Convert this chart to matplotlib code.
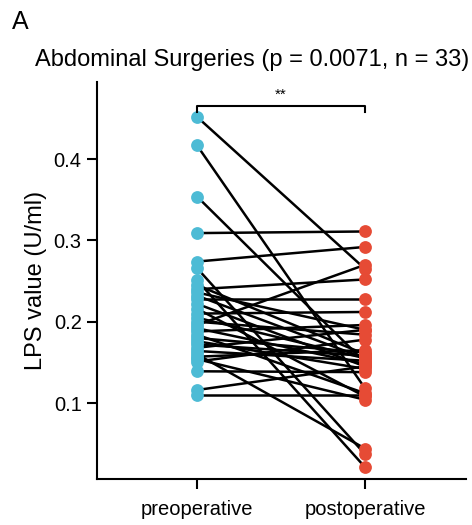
import matplotlib
matplotlib.use("Agg")
import matplotlib.pyplot as plt

plt.rcParams['font.family'] = ['Liberation Sans', 'DejaVu Sans']

groups = ['preoperative', 'postoperative']
pre = [0.452, 0.417, 0.354, 0.309, 0.274, 0.266, 0.251, 0.245, 0.240, 0.236, 0.232,
       0.228, 0.222, 0.216, 0.210, 0.205, 0.200, 0.196, 0.192, 0.188, 0.184, 0.180,
       0.176, 0.172, 0.168, 0.164, 0.160, 0.157, 0.154, 0.151, 0.139, 0.116, 0.110]
post = [0.265, 0.118, 0.150, 0.311, 0.292, 0.037, 0.021, 0.160, 0.252, 0.190, 0.155,
        0.228, 0.145, 0.108, 0.212, 0.155, 0.184, 0.270, 0.148, 0.196, 0.112, 0.162,
        0.142, 0.158, 0.190, 0.152, 0.044, 0.165, 0.104, 0.178, 0.138, 0.145, 0.110]
yticks = [0.1, 0.2, 0.3, 0.4]

fig = plt.figure(figsize=(4.72, 5.25), dpi=100)
ax = fig.add_axes([0.2055, 0.0876, 0.7815, 0.7564])

for a, b in zip(pre, post):
    ax.plot([1, 2], [a, b], color='black', lw=1.8, zorder=1)
ax.scatter([1] * len(pre), pre, s=85, color='#4DBBD5', zorder=2, linewidths=0)
ax.scatter([2] * len(post), post, s=85, color='#E64B35', zorder=2, linewidths=0)

# significance bracket
ax.plot([1, 1, 2, 2], [0.458, 0.465, 0.465, 0.458], color='black', lw=1.5, clip_on=False)
ax.text(1.5, 0.471, '**', ha='center', va='bottom', fontsize=11)

ax.set_xlim(0.405, 2.60)
ax.set_ylim(0.0065, 0.495)
ax.set_xticks([1, 2])
ax.set_xticklabels(groups, fontsize=14.5)
ax.set_yticks(yticks)
ax.set_yticklabels([f'{t:.1f}' for t in yticks], fontsize=14.5)
ax.set_ylabel('LPS value (U/ml)', fontsize=17, labelpad=5)
ax.spines['top'].set_visible(False)
ax.spines['right'].set_visible(False)
ax.spines['left'].set_linewidth(1.5)
ax.spines['bottom'].set_linewidth(1.5)
ax.tick_params(width=1.5, length=7, pad=4)
ax.tick_params(axis='x', pad=8)

fig.text(252 / 472, 1 - 60 / 525, 'Abdominal Surgeries (p = 0.0071, n = 33)',
         ha='center', va='center', fontsize=17)
fig.text(12 / 472, 1 - 22 / 525, 'A', ha='left', va='center', fontsize=18)

fig.savefig('out.png', dpi=100)
